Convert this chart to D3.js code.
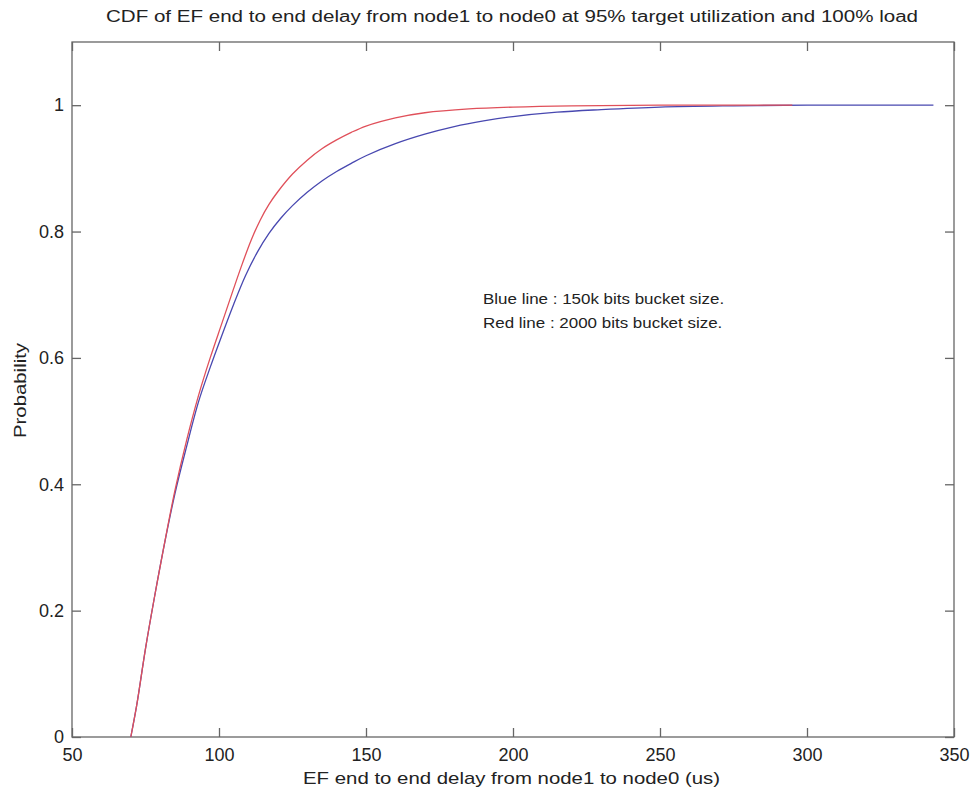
<!DOCTYPE html>
<html>
<head>
<meta charset="utf-8">
<script src="https://cdn.jsdelivr.net/npm/d3@7"></script>
<style>
  html, body { margin: 0; padding: 0; background: #fff; }
  svg { display: block; font-family: "Liberation Sans", Arial, Helvetica, sans-serif; }
</style>
</head>
<body>
<svg id="chart" width="974" height="794"></svg>
<script>
// EF end-to-end delay CDF samples (delay in us, cumulative probability)
const blueDelay = [70, 72, 75, 78, 81, 85, 89, 93, 97, 101, 105, 109, 113, 117, 121, 125, 130, 135, 140, 145, 150, 160, 170, 180, 190, 200, 215, 230, 250, 275, 300, 343];
const blueProb  = [0.0, 0.05, 0.14, 0.22, 0.295, 0.385, 0.46, 0.53, 0.585, 0.636, 0.685, 0.73, 0.767, 0.797, 0.821, 0.841, 0.862, 0.88, 0.895, 0.908, 0.92, 0.939, 0.954, 0.966, 0.975, 0.982, 0.989, 0.993, 0.997, 0.999, 1.0, 1.0];

const redDelay = [70, 72, 75, 78, 81, 85, 89, 93, 97, 101, 105, 108, 111, 114, 117, 120, 125, 130, 135, 140, 145, 150, 160, 170, 185, 200, 220, 250, 295];
const redProb  = [0.0, 0.05, 0.14, 0.22, 0.295, 0.39, 0.47, 0.54, 0.60, 0.655, 0.71, 0.75, 0.787, 0.818, 0.843, 0.863, 0.891, 0.913, 0.931, 0.945, 0.957, 0.967, 0.98, 0.988, 0.994, 0.997, 0.999, 1.0, 1.0];

const xTicks = [50, 100, 150, 200, 250, 300, 350];
const yTicks = [0, 0.2, 0.4, 0.6, 0.8, 1];

const titleText = "CDF of EF end to end delay from node1 to node0 at 95% target utilization and 100% load";
const xLabelText = "EF end to end delay from node1 to node0 (us)";
const yLabelText = "Probability";
const noteLines = ["Blue line : 150k bits bucket size.", "Red line : 2000 bits bucket size."];

const svg = d3.select("#chart");
const plotL = 72, plotR = 954, plotT = 42, plotB = 737;

const x = d3.scaleLinear().domain([50, 350]).range([plotL, plotR]);
const y = d3.scaleLinear().domain([0, 1.1]).range([plotB, plotT]);

const axisColor = "#666";
const textColor = "#222";
const tickLen = 9;

// axes box
svg.append("rect")
  .attr("x", plotL).attr("y", plotT)
  .attr("width", plotR - plotL).attr("height", plotB - plotT)
  .attr("fill", "none").attr("stroke", axisColor).attr("stroke-width", 1.3);

// bottom / left axes with inward ticks, plus tick marks on top and right
const xAxis = d3.axisBottom(x).tickValues(xTicks).tickSizeInner(-tickLen).tickSizeOuter(0).tickPadding(11)
  .tickFormat(d3.format("d"));
const yAxis = d3.axisLeft(y).tickValues(yTicks).tickSizeInner(-tickLen).tickSizeOuter(0).tickPadding(8)
  .tickFormat(d => d === 0 || d === 1 ? String(d) : d3.format(".1f")(d));
const xTop = d3.axisTop(x).tickValues(xTicks).tickSizeInner(-tickLen).tickSizeOuter(0).tickFormat("");
const yRight = d3.axisRight(y).tickValues(yTicks).tickSizeInner(-tickLen).tickSizeOuter(0).tickFormat("");

function styleAxis(g) {
  g.select(".domain").remove();
  g.selectAll(".tick line").attr("stroke", axisColor).attr("stroke-width", 1.3);
  g.selectAll(".tick text").attr("fill", textColor).style("font-size", "18px")
    .style("font-family", "'Liberation Sans', Arial, sans-serif");
}

svg.append("g").attr("transform", `translate(0,${plotB})`).call(xAxis).call(styleAxis);
svg.append("g").attr("transform", `translate(${plotL},0)`).call(yAxis).call(styleAxis);
svg.append("g").attr("transform", `translate(0,${plotT})`).call(xTop).call(styleAxis);
svg.append("g").attr("transform", `translate(${plotR},0)`).call(yRight).call(styleAxis);

// CDF curves
const line = d3.line()
  .x(d => x(d[0]))
  .y(d => y(d[1]))
  .curve(d3.curveCatmullRom.alpha(0.5));

const blueData = blueDelay.map((d, i) => [d, blueProb[i]]);
const redData = redDelay.map((d, i) => [d, redProb[i]]);

svg.append("path").datum(blueData)
  .attr("d", line).attr("fill", "none")
  .attr("stroke", "#4848b0").attr("stroke-width", 1.3);
svg.append("path").datum(redData)
  .attr("d", line).attr("fill", "none")
  .attr("stroke", "#e0505a").attr("stroke-width", 1.3);

// title and axis labels (wide Helvetica-style lettering)
svg.append("text")
  .attr("x", 106).attr("y", 22)
  .attr("fill", textColor)
  .attr("textLength", 812).attr("lengthAdjust", "spacingAndGlyphs")
  .style("font-size", "16px")
  .text(titleText);

svg.append("text")
  .attr("x", 303).attr("y", 784)
  .attr("fill", textColor)
  .attr("textLength", 417).attr("lengthAdjust", "spacingAndGlyphs")
  .style("font-size", "17px")
  .text(xLabelText);

svg.append("text")
  .attr("transform", `translate(26,438) rotate(-90)`)
  .attr("fill", textColor)
  .attr("textLength", 95).attr("lengthAdjust", "spacingAndGlyphs")
  .style("font-size", "17px")
  .text(yLabelText);

// annotation
const noteG = svg.append("g");
noteG.selectAll("text").data(noteLines).join("text")
  .attr("x", 483).attr("y", (d, i) => 304 + i * 24)
  .attr("fill", textColor)
  .style("font-size", "15px")
  .text(d => d)
  .each(function () {
    const w = this.getComputedTextLength();
    d3.select(this).attr("textLength", w * 1.13).attr("lengthAdjust", "spacingAndGlyphs");
  });
</script>
</body>
</html>
